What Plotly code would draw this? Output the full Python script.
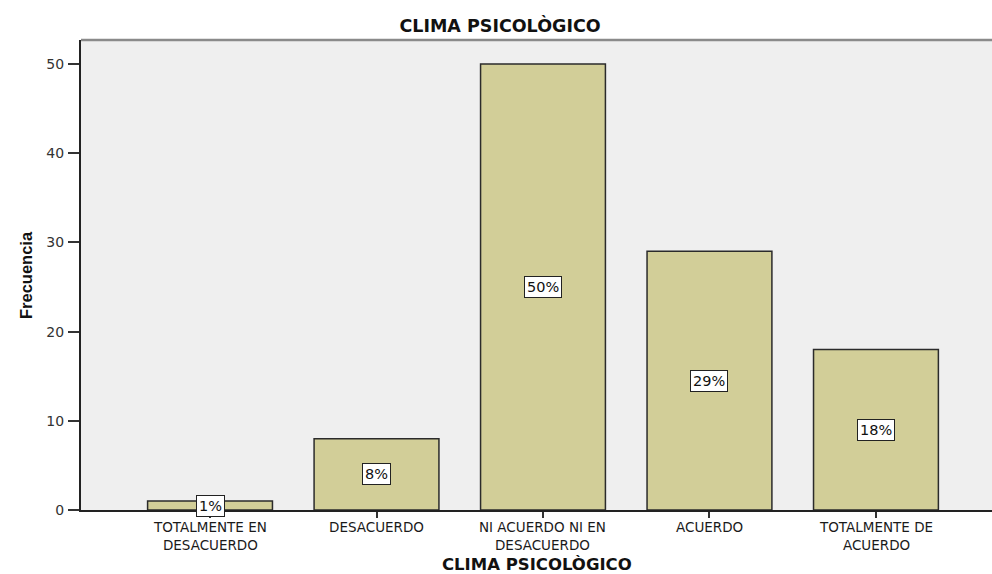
import plotly.graph_objects as go

categories = ["TOTALMENTE EN<br>DESACUERDO", "DESACUERDO", "NI ACUERDO NI EN<br>DESACUERDO",
              "ACUERDO", "TOTALMENTE DE<br>ACUERDO"]
frecuencia = [1, 8, 50, 29, 18]
porcentajes = ["1%", "8%", "50%", "29%", "18%"]
y_ticks = [0, 10, 20, 30, 40, 50]
titulo = "CLIMA PSICOLÒGICO"
titulo_x = "CLIMA PSICOLÒGICO"
titulo_y = "Frecuencia"

W, H = 992, 574
WIDE = "DejaVu Sans, Verdana, sans-serif"
ARIAL = "Liberation Sans, Arial, sans-serif"

fig = go.Figure()
fig.add_trace(go.Bar(
    x=categories, y=frecuencia, width=0.75,
    marker=dict(color="#D2CE98", line=dict(color="#2b2b2b", width=1.5)),
    hoverinfo="skip", showlegend=False,
))

# percentage labels in white boxes at mid-height of each bar
for c, v, p in zip(categories, frecuencia, porcentajes):
    fig.add_annotation(x=c, y=v / 2, text=p, showarrow=False,
                       font=dict(family=WIDE, size=14.5, color="#111"),
                       bgcolor="white", bordercolor="#222", borderwidth=1, borderpad=2)

# category labels
for c in categories:
    fig.add_annotation(x=c, y=0, yref="y", text=c, showarrow=False,
                       xanchor="center", yanchor="top", yshift=-7,
                       font=dict(family=WIDE, size=13.5, color="#1a1a1a"))

# x axis title
fig.add_annotation(xref="paper", yref="paper", x=0.5, y=0, yshift=-54,
                   text="<b>" + titulo_x + "</b>", showarrow=False,
                   xanchor="center", yanchor="middle",
                   font=dict(family=WIDE, size=16.5, color="#111"))
# y axis title
fig.add_annotation(xref="paper", yref="paper", x=0, y=0.5, xshift=-55,
                   text="<b>" + titulo_y + "</b>", showarrow=False, textangle=-90,
                   xanchor="center", yanchor="middle",
                   font=dict(family=ARIAL, size=16.5, color="#111"))

fig.add_shape(type="line", xref="paper", yref="paper", x0=0, x1=1, y0=1, y1=1,
              line=dict(color="#8a8a8a", width=2.5))

fig.update_layout(
    width=W, height=H,
    margin=dict(l=81, r=0, t=40, b=64),
    paper_bgcolor="white", plot_bgcolor="#EFEFEF",
    font=dict(family=WIDE, size=14, color="#222"),
    title=dict(text="<b>" + titulo + "</b>", x=500 / W, xanchor="center",
               y=1 - 26 / H, yanchor="middle",
               font=dict(family=WIDE, size=17.5, color="#111")),
)
fig.update_xaxes(
    type="category", range=[-0.775, 4.697],
    showline=True, linecolor="#222", linewidth=2,
    ticks="outside", ticklen=6, tickcolor="#333", tickwidth=1.5,
    showticklabels=False,
    showgrid=False, zeroline=False,
)
fig.update_yaxes(
    range=[0, 52.7], tickvals=y_ticks,
    showline=True, linecolor="#222", linewidth=2,
    ticks="outside", ticklen=11, tickcolor="#333", tickwidth=1.5,
    tickfont=dict(family=WIDE, size=14, color="#333"), ticklabelstandoff=1,
    showgrid=False, zeroline=False,
)

fig.write_html("out.html", config={"displayModeBar": False},
               post_script="document.body.style.margin='0';")
